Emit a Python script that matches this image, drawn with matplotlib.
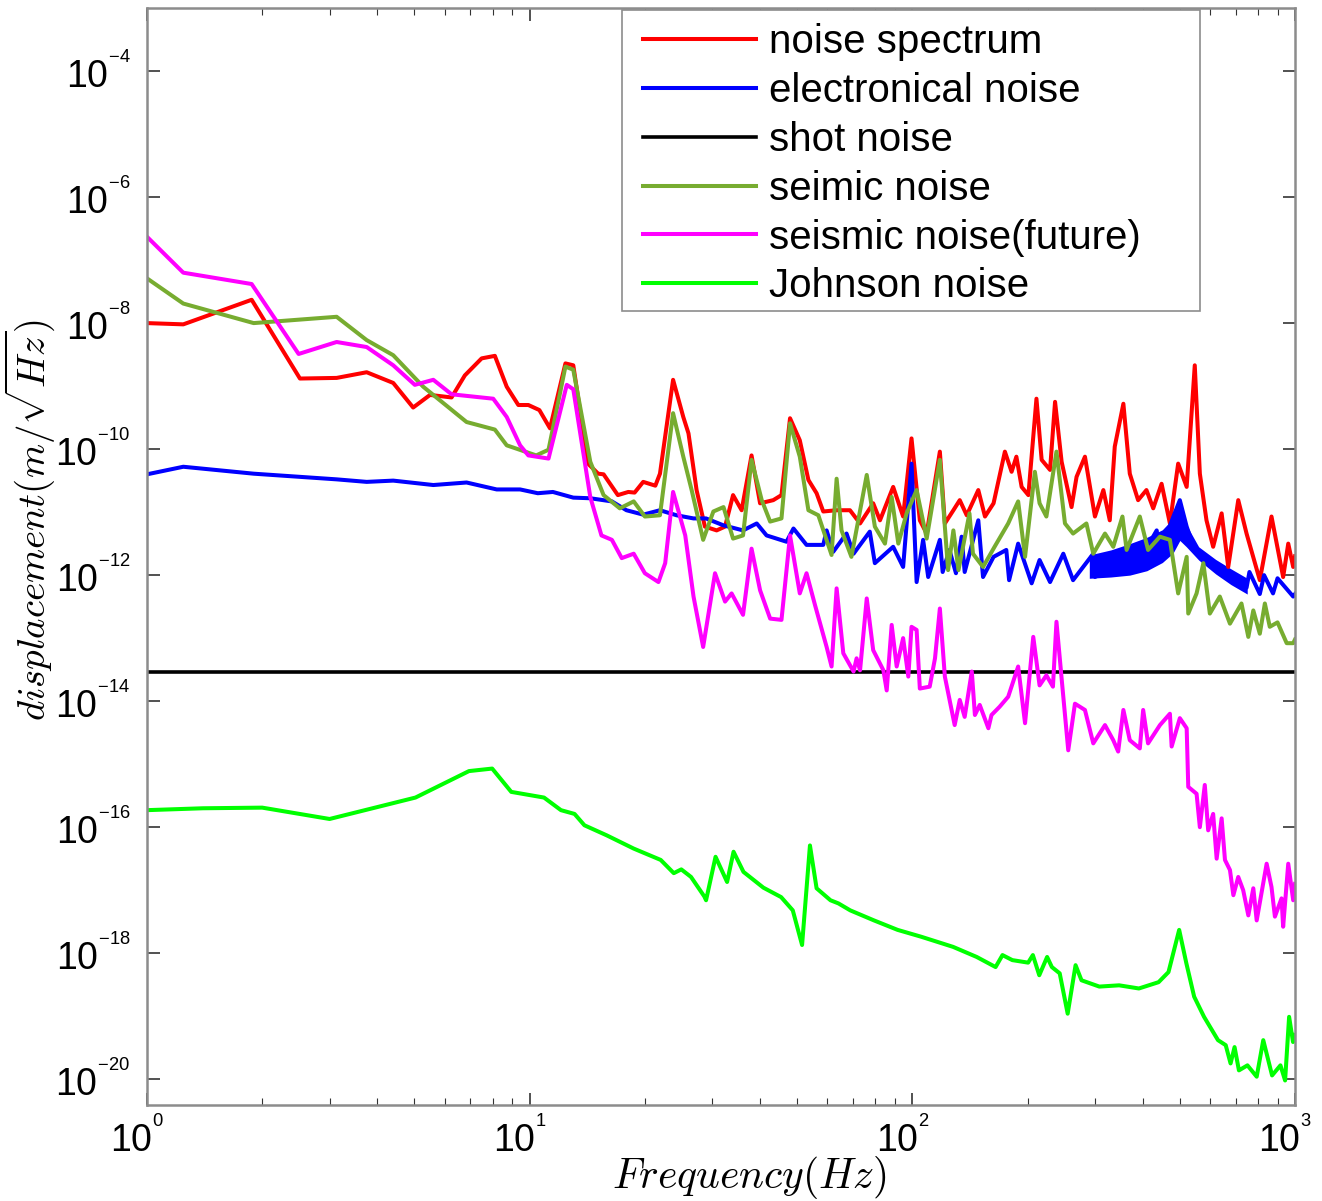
import numpy as np
import matplotlib
matplotlib.use('Agg')
import matplotlib.pyplot as plt
from matplotlib.patches import Rectangle
from matplotlib.transforms import ScaledTranslation
from matplotlib.ticker import LogLocator, NullLocator, FixedLocator

plt.rcParams['font.family'] = ['Liberation Sans', 'DejaVu Sans']
plt.rcParams['mathtext.fontset'] = 'cm'

# values, as (Hz, log10 of displacement)
f_noise = [1.0, 1.244, 1.877, 2.51, 3.13, 3.75, 4.40, 4.96, 5.49, 6.25, 6.77, 7.49, 8.11, 8.71, 9.34, 9.92,
           10.6, 11.3, 12.4, 13.0, 14.2, 15.1, 15.6, 17.0, 18.1, 18.8, 19.8, 21.3, 21.9, 23.7, 25.2, 26.0,
           27.3, 28.7, 30.8, 32.4, 34.0, 35.8, 38.0, 40.0, 43.3, 45.5, 47.9, 50.8, 53.5, 56.2, 58.5, 63.4,
           68.7, 73.0, 79.0, 82.3, 89.1, 94.6, 99.5, 104.6, 109, 118, 121.6, 128, 133, 138.7, 148.7, 154.8,
           163, 174.5, 181.7, 187, 193, 201, 211, 217.7, 229, 236, 245.5, 260.6, 268.6, 282.5, 300, 315.6,
           328, 338, 356, 370, 389, 409, 426, 448, 471, 495, 521, 547, 564, 587, 611, 643, 669, 710.6,
           747, 809, 868, 931, 960, 989, 1000]
e_noise = [-8.00, -8.02, -7.63, -8.88, -8.87, -8.78, -8.95, -9.34, -9.14, -9.18, -8.83, -8.56, -8.52, -9.01,
           -9.30, -9.30, -9.38, -9.67, -8.64, -8.67, -10.23, -10.39, -10.40, -10.73, -10.68, -10.69, -10.52,
           -10.58, -10.39, -8.90, -9.49, -9.75, -10.65, -11.23, -11.29, -11.23, -10.73, -10.97, -10.10,
           -10.86, -10.81, -10.73, -9.51, -9.86, -10.49, -10.70, -10.99, -10.97, -10.97, -11.18, -10.86,
           -11.13, -10.60, -11.07, -9.83, -11.13, -11.34, -10.04, -11.18, -10.97, -10.81, -11.05, -10.65,
           -11.07, -10.86, -10.04, -10.36, -10.12, -10.60, -10.73, -9.20, -10.17, -10.33, -9.25, -10.20,
           -10.92, -10.44, -10.12, -11.07, -10.65, -11.13, -9.96, -9.28, -10.39, -10.81, -10.65, -10.94,
           -10.55, -11.18, -10.23, -10.60, -8.67, -10.39, -11.13, -11.55, -11.02, -11.87, -10.81, -11.34,
           -12.08, -11.07, -12.03, -11.50, -11.87, -11.70]

f_elec = [1.0, 1.244, 1.90, 3.13, 3.75, 4.40, 5.60, 6.84, 8.20, 9.44, 10.5, 11.5, 13.0, 14.4, 16.4, 17.9,
          19.8, 21.9, 24.2, 26.8, 28.9, 32.1, 36.1, 39.2, 41.6, 46.9, 48.9, 52.9, 58.5, 59.7, 62.1, 67.3,
          70.2, 77.4, 79.8, 89.1, 94.6, 99.5, 102.6, 106.7, 110, 118, 120, 125, 130, 134.5, 137, 148.7,
          153, 163, 176, 179, 189, 205, 215, 229, 248, 263, 297, 300, 349, 393, 435, 443, 481, 500, 521,
          547, 587, 649, 690, 747, 760, 809, 830, 876, 900, 989, 1000]
e_elec = [-10.40, -10.28, -10.39, -10.48, -10.52, -10.50, -10.57, -10.53, -10.64, -10.64, -10.70, -10.68,
          -10.77, -10.78, -10.83, -10.97, -11.04, -10.97, -11.05, -11.10, -11.10, -11.21, -11.29, -11.18,
          -11.37, -11.47, -11.26, -11.52, -11.52, -11.29, -11.63, -11.34, -11.66, -11.31, -11.81, -11.55,
          -11.87, -10.23, -12.11, -11.44, -12.03, -11.44, -11.95, -11.60, -11.97, -11.39, -11.95, -11.13,
          -12.03, -11.71, -11.60, -12.08, -11.50, -12.13, -11.76, -12.11, -11.66, -12.08, -11.66, -12.03,
          -11.81, -11.76, -11.29, -11.65, -11.07, -10.81, -11.23, -11.60, -11.80, -11.92, -12.08, -12.20,
          -11.95, -12.30, -12.00, -12.29, -12.05, -12.34, -12.30]
# thick dense part of the electronical noise (lower / upper edge)
f_band = [290, 330, 370, 410, 450, 480, 500, 520, 560, 620, 680, 750]
e_band_hi = [-11.68, -11.60, -11.50, -11.40, -11.28, -11.10, -10.81, -11.20, -11.55, -11.75, -11.90, -12.05]
e_band_lo = [-12.05, -12.03, -12.00, -11.93, -11.80, -11.65, -11.45, -11.55, -11.76, -11.98, -12.15, -12.30]

shot_level = 2.9e-14

f_seis = [1.0, 1.244, 1.90, 3.13, 3.75, 4.40, 5.27, 6.84, 8.11, 8.71, 10.4, 11.2, 12.4, 13.0, 14.4, 15.6,
          17.2, 18.7, 20.0, 21.9, 23.7, 25.2, 26.5, 28.4, 30.2, 32.1, 34.0, 36.1, 38.0, 40.4, 42.5, 45.5,
          47.9, 50.8, 53.5, 56.8, 61.5, 63.4, 65.3, 69.3, 76.0, 79.8, 84.8, 88.3, 91.9, 96.6, 102.6, 109,
          118, 124, 128, 132, 141, 144, 153, 164, 178, 189, 197, 209, 215, 224, 238, 250.5, 263, 285, 297,
          318.7, 335, 354, 363, 393, 413, 443.6, 471, 495, 521, 526, 553, 576, 599, 636, 676, 724.5, 755,
          778, 809, 834, 859, 900, 951, 989, 1000]
e_seis = [-7.29, -7.69, -8.00, -7.90, -8.27, -8.51, -9.01, -9.57, -9.69, -9.94, -10.10, -10.01, -8.69, -8.74,
          -10.20, -10.73, -10.94, -10.83, -11.07, -11.05, -9.43, -10.12, -10.65, -11.44, -10.99, -10.92,
          -11.42, -11.37, -10.17, -10.81, -11.15, -11.10, -9.59, -10.12, -10.97, -11.05, -11.68, -10.47,
          -11.29, -11.71, -10.41, -11.23, -11.50, -10.76, -11.50, -11.02, -10.65, -11.42, -10.17, -11.92,
          -11.29, -11.92, -11.02, -11.66, -11.87, -11.55, -11.18, -10.83, -11.71, -10.36, -10.86, -11.07,
          -10.04, -11.18, -11.34, -11.18, -11.66, -11.34, -11.55, -11.07, -11.60, -11.07, -11.60, -11.39,
          -11.44, -12.29, -11.71, -12.61, -12.29, -11.81, -12.61, -12.34, -12.77, -12.45, -12.98, -12.56,
          -12.93, -12.45, -12.82, -12.75, -13.08, -13.08, -13.02]

f_fut = [1.0, 1.244, 1.877, 2.49, 3.13, 3.75, 4.40, 5.01, 5.60, 6.25, 8.03, 8.71, 9.44, 9.92, 11.2, 12.5,
         13.0, 14.4, 15.4, 16.4, 17.4, 18.7, 20.0, 21.7, 22.6, 23.7, 25.5, 26.8, 28.4, 30.5, 32.4, 33.7,
         36.1, 38.0, 40.0, 42.5, 45.5, 47.9, 50.8, 52.9, 55.7, 59.7, 61.5, 63.4, 66.0, 70.2, 71.5, 73.0,
         76.0, 79.0, 84.0, 85.7, 88.3, 91.0, 94.6, 97.6, 99.5, 102.6, 104.6, 111, 114.6, 118, 121.6, 129,
         133, 137, 143, 145.7, 150, 158, 161, 169, 178, 189, 197, 207, 215, 224, 233, 238, 245.5, 255.5,
         266, 282.5, 297, 318.7, 335, 345, 356, 370, 393, 401, 413, 443.6, 471, 476, 500, 521, 526, 553,
         564, 581, 593, 611, 624, 643, 656, 676, 690, 710.6, 732, 755, 778, 794, 843, 868, 886, 922, 931,
         960, 989, 1000]
e_fut = [-6.63, -7.20, -7.38, -8.49, -8.30, -8.38, -8.67, -8.98, -8.90, -9.13, -9.20, -9.49, -9.94, -10.10,
         -10.15, -8.98, -9.05, -10.76, -11.37, -11.44, -11.73, -11.66, -11.97, -12.11, -11.81, -10.68,
         -11.37, -12.34, -13.14, -11.97, -12.42, -12.29, -12.63, -11.58, -12.24, -12.69, -12.71, -11.37,
         -12.29, -11.97, -12.48, -13.14, -13.45, -12.21, -13.24, -13.53, -13.32, -13.51, -12.37, -13.19,
         -13.51, -13.83, -12.79, -13.45, -13.00, -13.61, -12.82, -12.87, -13.80, -13.77, -13.32, -12.53,
         -13.61, -14.38, -13.98, -14.25, -13.53, -14.22, -14.06, -14.43, -14.22, -14.09, -13.93, -13.45,
         -14.35, -12.98, -13.75, -13.59, -13.77, -12.74, -13.64, -14.78, -14.04, -14.14, -14.67, -14.38,
         -14.62, -14.80, -14.14, -14.62, -14.75, -14.14, -14.67, -14.38, -14.20, -14.72, -14.27, -14.43,
         -15.36, -15.47, -16.00, -15.33, -16.05, -15.79, -16.50, -15.86, -16.52, -16.68, -17.08, -16.79,
         -17.00, -17.40, -16.97, -17.48, -16.58, -16.95, -17.42, -17.13, -17.58, -16.58, -17.16, -16.90]

f_john = [1.0, 1.40, 2.00, 3.0, 5.03, 6.94, 7.98, 8.95, 10.9, 12.07, 13.1, 13.9, 15.9, 18.7, 22.0, 23.8,
          24.9, 26.4, 28.6, 28.9, 30.6, 32.8, 34.1, 36.2, 40.8, 45.4, 48.7, 51.5, 54.0, 56.2, 61.1, 64.1,
          68.8, 79.4, 91.5, 105.6, 127.8, 147.3, 165, 172, 182.5, 200.7, 206.5, 214.6, 225, 231.5, 242.7,
          254.6, 267, 276.7, 308, 347, 390.8, 440, 467, 498, 520, 545, 578.4, 629, 659, 678.5, 695, 713.5,
          751, 794, 826, 871, 916, 942, 965, 988, 1000]
e_john = [-15.73, -15.70, -15.69, -15.87, -15.53, -15.11, -15.07, -15.44, -15.53, -15.73, -15.79, -15.97,
          -16.13, -16.34, -16.52, -16.73, -16.67, -16.79, -17.10, -17.16, -16.47, -16.87, -16.39, -16.71,
          -16.96, -17.11, -17.32, -17.87, -16.29, -16.97, -17.16, -17.21, -17.32, -17.48, -17.63, -17.74,
          -17.90, -18.06, -18.22, -18.03, -18.11, -18.15, -18.03, -18.35, -18.06, -18.22, -18.32, -18.96,
          -18.19, -18.43, -18.53, -18.51, -18.56, -18.46, -18.30, -17.63, -18.16, -18.69, -19.01, -19.38,
          -19.46, -19.75, -19.49, -19.86, -19.78, -19.96, -19.38, -19.94, -19.78, -20.02, -19.01, -19.41,
          -19.30]

labels = ['noise spectrum', 'electronical noise', 'shot noise', 'seimic noise',
          'seismic noise(future)', 'Johnson noise']
colors = ['#FF0000', '#0000FF', '#000000', '#77AC30', '#FF00FF', '#00FF00']

fig = plt.figure(figsize=(13.22, 12.01), dpi=100)
ax = fig.add_axes([0.1112, 0.0799, 0.8684, 0.9134])
lw = 2.9

ax.loglog(f_noise, 10.0 ** np.array(e_noise), color=colors[0], lw=lw, label=labels[0])
ax.loglog(f_elec, 10.0 ** np.array(e_elec), color=colors[1], lw=lw, label=labels[1])
ax.fill_between(f_band, 10.0 ** np.array(e_band_lo), 10.0 ** np.array(e_band_hi),
                color=colors[1], lw=0)
ax.axhline(shot_level, color=colors[2], lw=2.6, label=labels[2])
ax.loglog(f_seis, 10.0 ** np.array(e_seis), color=colors[3], lw=lw, label=labels[3])
ax.loglog(f_fut, 10.0 ** np.array(e_fut), color=colors[4], lw=lw, label=labels[4])
ax.loglog(f_john, 10.0 ** np.array(e_john), color=colors[5], lw=lw, label=labels[5])

ax.set_xlim(1, 1000)
ax.set_ylim(10 ** -20.41, 1e-3)

# small, raised exponents like the original tick labels
ax.yaxis.set_major_locator(FixedLocator([10.0 ** k for k in range(-20, -3, 2)]))
ax.yaxis.set_minor_locator(NullLocator())
ax.set_yticklabels([r'$\mathregular{10^{{}^{%d}}}$' % k for k in range(-20, -3, 2)])
ax.xaxis.set_major_locator(FixedLocator([1, 10, 100, 1000]))
ax.xaxis.set_minor_locator(LogLocator(base=10, subs=np.arange(2, 10)))
ax.set_xticklabels([r'$\mathregular{10^{{}^{%d}}}$' % k for k in range(4)])

ax.tick_params(which='both', direction='in', top=True, right=True, colors='#333333',
               labelcolor='black', labelsize=27)
ax.tick_params(which='major', length=9, width=1.2)
ax.tick_params(axis='y', which='major', pad=12)
ax.tick_params(axis='x', which='major', pad=9)
ax.tick_params(which='minor', length=5, width=0.8)
shift = ScaledTranslation(-7 / 72, 0, fig.dpi_scale_trans)
for lbl in ax.get_xticklabels():
    lbl.set_transform(lbl.get_transform() + shift)
for s in ax.spines.values():
    s.set_color('#8c8c8c')
    s.set_linewidth(1.8)

ax.set_xlabel(r'$Frequency(Hz)$', fontsize=30)
ax.xaxis.set_label_coords(0.525, -0.045)
ax.set_ylabel(r'$displacement(m/\sqrt{Hz})$', fontsize=28)
ax.yaxis.set_label_coords(-0.078, 0.533)

# legend box drawn on its own so its width matches the original
ax.add_patch(Rectangle((0.4138, 0.7238), 0.5035, 0.2742, transform=ax.transAxes,
                       facecolor='white', edgecolor='#8c8c8c', lw=1.2, zorder=4.9))
leg = ax.legend(loc='upper left', bbox_to_anchor=(0.4216, 0.9973), borderaxespad=0,
                fontsize=29, handlelength=2.8, handletextpad=0.33, labelspacing=0.27,
                borderpad=0.3, frameon=False)
leg.set_zorder(5)

fig.savefig('out.png', dpi=100)
